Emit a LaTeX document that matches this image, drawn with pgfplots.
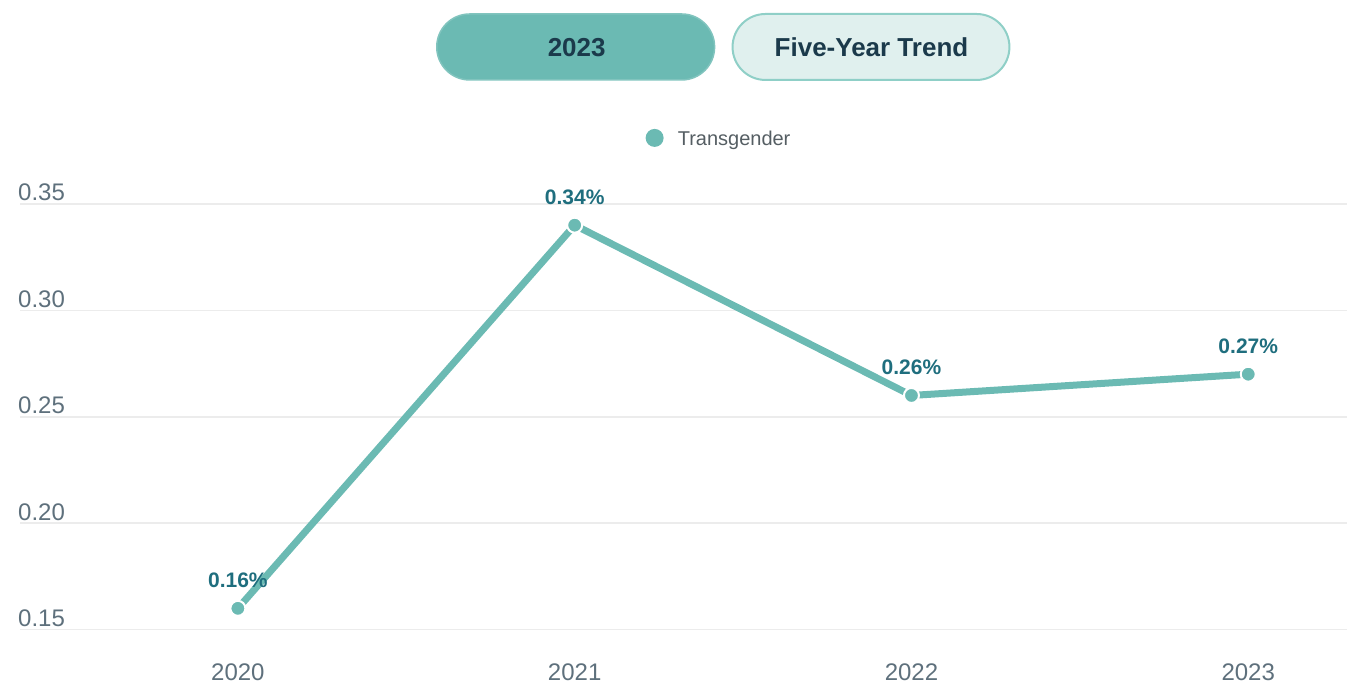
\documentclass[border=0pt]{standalone}
\usepackage{pgfplots}
\pgfplotsset{compat=1.18}
\usepackage{fontspec}
\setmainfont{Liberation Sans}
\definecolor{teal1}{HTML}{6BBAB3}
\definecolor{lab}{HTML}{1F6E7E}
\definecolor{tickc}{HTML}{5E707C}
\definecolor{gridc}{HTML}{ECECEC}
\definecolor{btntext}{HTML}{1B3A4B}
\definecolor{btn2}{HTML}{E0F0EE}
\definecolor{btn2b}{HTML}{8FCFC7}
\definecolor{legc}{HTML}{555E63}
\begin{document}
\begin{tikzpicture}[x=1pt,y=1pt]
\path (0,0) rectangle (1348,688);
% buttons
\draw[fill=teal1, draw=teal1!85!white, line width=1.5pt, rounded corners=32.9pt] (437,608) rectangle (715,674);
\node[anchor=base, inner sep=0pt, font=\bfseries\fontsize{26}{30}\selectfont, text=btntext] at (577,631) {2023};
\draw[fill=btn2, draw=btn2b, line width=2pt, rounded corners=32.9pt] (733,608) rectangle (1010,674);
\node[anchor=base, inner sep=0pt, font=\bfseries\fontsize{26}{30}\selectfont, text=btntext] at (872,631) {Five-Year Trend};
% legend
\fill[teal1] (655,550) circle (9);
\node[anchor=base west, inner sep=0pt, font=\fontsize{20}{24}\selectfont, text=legc] at (678,542) {Transgender};
\begin{axis}[at={(20pt,58pt)}, anchor=south west, scale only axis,
  width=1328pt, height=426pt,
  xmin=2019.353, xmax=2023.294, ymin=0.15, ymax=0.35,
  xtick={2020,2021,2022,2023}, xticklabels={2020,2021,2022,2023},
  ytick={0.15,0.20,0.25,0.30,0.35}, yticklabels={0.15,0.20,0.25,0.30,0.35},
  axis line style={draw=none}, major tick length=0pt,
  ymajorgrids, grid style={gridc, line width=1.5pt},
  yticklabel style={anchor=base west, inner sep=0pt, xshift=-2pt, yshift=3pt, font=\fontsize{24}{28}\selectfont, text=tickc},
  xticklabel style={anchor=base, inner sep=0pt, yshift=-51pt, font=\fontsize{24}{28}\selectfont, text=tickc},
  clip=false,
]
\addplot[teal1, line width=7pt, line join=round, mark=*, mark size=7.5pt,
  mark options={fill=teal1, draw=white, line width=2pt},
  nodes near coords={\pgfplotspointmeta\%}, point meta=explicit symbolic,
  every node near coord/.style={anchor=base, inner sep=0pt, yshift=21pt, font=\bfseries\fontsize{21}{25}\selectfont, text=lab}]
  table[meta=label] {
x y label
2020 0.16 0.16
2021 0.34 0.34
2022 0.26 0.26
2023 0.27 0.27
};
\end{axis}
\end{tikzpicture}
\end{document}
